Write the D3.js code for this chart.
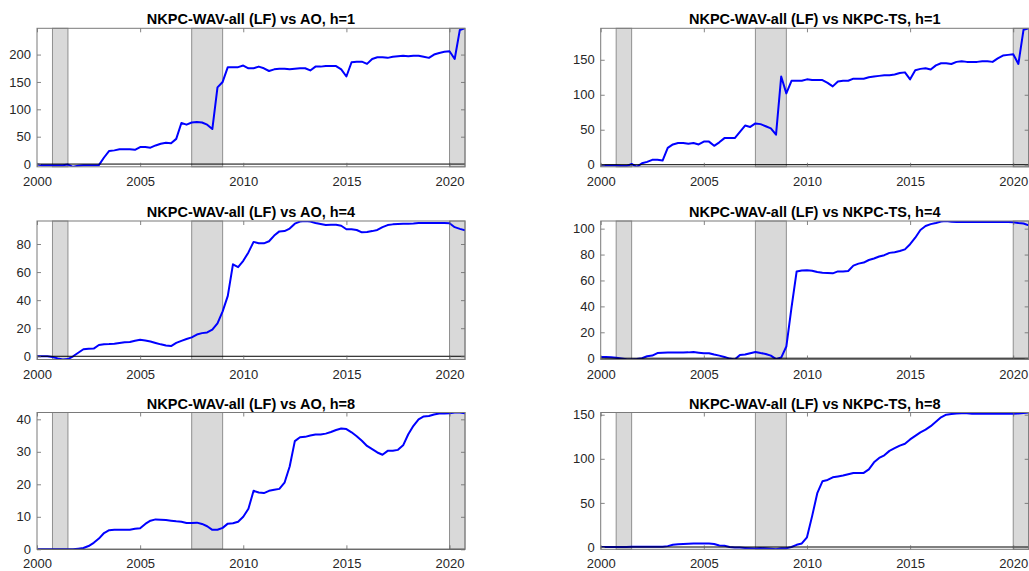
<!DOCTYPE html>
<html>
<head>
<meta charset="utf-8">
<script src="https://cdn.jsdelivr.net/npm/d3@7"></script>
<style>
  html, body { margin: 0; padding: 0; background: #fff; overflow: hidden; }
  svg { display: block; font-family: "Liberation Sans", Arial, Helvetica, sans-serif; }
</style>
</head>
<body>
<svg id="chart" width="1029" height="571"></svg>
<script>
// ---- Data (quarterly, 2000Q1 .. 2020Q4) ----
const startYear = 2000;
const nQuarters = 84;
const dates = d3.range(nQuarters).map(i => startYear + i / 4);

const xTicks = [2000, 2005, 2010, 2015, 2020];
const recessions = [[2000.75, 2001.5], [2007.5, 2009.0], [2020.0, 2020.75]];

const titles = [
  "NKPC-WAV-all (LF) vs AO, h=1",
  "NKPC-WAV-all (LF) vs NKPC-TS, h=1",
  "NKPC-WAV-all (LF) vs AO, h=4",
  "NKPC-WAV-all (LF) vs NKPC-TS, h=4",
  "NKPC-WAV-all (LF) vs AO, h=8",
  "NKPC-WAV-all (LF) vs NKPC-TS, h=8"
];

const aoH1 = [
  -1, -2, -2, -2,   -2, -2, -1, -5,   -3, -2, -2, -2,   -2, 12, 24, 25,
  27, 27, 27, 26,   31, 31, 30, 34,   37, 39, 38, 46,   75, 72, 76, 77,
  76, 72, 64, 140,  150, 177, 177, 177, 180, 175, 175, 178, 175, 170, 173, 174,
  174, 173, 174, 175, 175, 171, 178, 178, 179, 179, 179, 173, 160, 186, 187, 187,
  183, 192, 195, 195, 194, 196, 197, 198, 197, 198, 198, 196, 194, 200, 203, 205,
  206, 192, 245, 248
];
const tsH1 = [
  -1, -1, -1, -1,   -2, -2, 1, -3,    2, 4, 7, 7,       6, 24, 29, 31,
  31, 30, 31, 29,   33, 33, 27, 32,   38, 38, 38, 47,   56, 54, 59, 58,
  55, 52, 43, 126,  102, 120, 120, 120, 122, 121, 121, 121, 117, 112, 119, 120,
  120, 123, 123, 123, 125, 126, 127, 128, 128, 129, 131, 132, 122, 135, 137, 138,
  136, 142, 145, 145, 144, 147, 148, 147, 147, 147, 148, 148, 147, 152, 156, 157,
  158, 144, 193, 195
];
const aoH4 = [
  0, 0, 0, -0.5,    -1.5, -2.3, -2, 0,   2.5, 5, 5.3, 5.5,   8, 8.5, 8.7, 9,
  9.5, 10, 10.2, 11, 11.7, 11.3, 10.5, 9.5, 8.5, 7.7, 7.3, 9.5, 11, 12.3, 13.5, 15.5,
  16.5, 17, 19, 23.5, 32, 43, 65.5, 63.5, 68, 74, 81.5, 80.5, 80.5, 82, 86, 89,
  89.2, 91, 94.5, 96, 96.4, 96, 95, 94.3, 93.5, 93.8, 93.7, 93, 90.5, 90.5, 90, 88.3,
  88.5, 89.2, 90, 92, 93.5, 94, 94.3, 94.5, 94.5, 94.7, 95, 95, 95, 95, 95, 95,
  94.8, 92, 90.8, 89.8
];
const tsH4 = [
  1, 1, 0.8, 0.3,   -0.2, -0.8, -1, -0.6,  0, 1.5, 2, 4,   4.3, 4.4, 4.4, 4.4,
  4.4, 4.5, 4.7, 4.3, 3.8, 3.8, 2.8, 2,   1, -0.3, -1, 2.5,  2.8, 3.8, 4.8, 4,
  3.3, 2, -0.7, 0.5, 9, 39, 67, 67.7,   67.8, 67.5, 66.5, 66, 65.8, 65.5, 67, 67,
  67.3, 71.5, 73, 73.8, 75.8, 77, 78.5, 79.5, 81.3, 81.8, 82.7, 84, 88, 93, 99, 102,
  103.5, 104.3, 105.5, 105.9, 105.3, 105.2, 105.2, 105.2, 105.2, 105.2, 105.2, 105.2,
  105.2, 105.2, 105.2, 105.2, 105, 104.3, 104, 102.5
];
const aoH8 = [
  0, 0, 0, 0,       0, 0, 0, 0,       0.2, 0.4, 1, 2,    3.3, 5, 5.9, 6,
  6, 6, 6, 6.3,     6.5, 7.8, 8.8, 9.2, 9.1, 9, 8.8, 8.6, 8.5, 8.1, 8.1, 8.2,
  7.8, 7.1, 6, 6,   6.6, 7.9, 8, 8.5, 10, 12.5, 18, 17.5, 17.3, 18, 18.3, 18.6,
  20.5, 25.5, 33.3, 34.5, 34.6, 35, 35.3, 35.3, 35.6, 36.1, 36.7, 37.2, 37, 36, 34.8, 33.4,
  31.8, 30.8, 29.8, 29.1, 30.3, 30.3, 30.6, 32, 35.4, 38, 40, 40.9, 41, 41.5, 41.8, 41.8,
  41.9, 42.1, 42.1, 41.9
];
const tsH8 = [
  0, 0, 0, 0,       0, 0, 0.2, 0.3,   0.3, 0.3, 0.2, 0.2, 0.3, 1, 2.5, 3,
  3.5, 3.8, 4, 4,   4, 4, 3.5, 1.8,   1.5, 0, -0.5, -0.7, -1, -1.3, -1.7, -1,
  -1.5, -2, -2.6, -1.5, -1.3, 0, 2.5, 4, 11, 35, 61, 74.5, 76, 79, 80, 81,
  82.5, 84, 84, 84, 88, 96, 101, 104, 109, 112, 115, 117, 122, 126, 130, 133,
  137, 142, 147, 150, 150.7, 151.3, 151.7, 151.7, 151, 151, 151, 151, 151, 151, 151, 151,
  151, 151.5, 152, 152.5
];

const seriesList = [aoH1, tsH1, aoH4, tsH4, aoH8, tsH8];
const yTickSteps = [50, 50, 20, 20, 10, 50];

// ---- Layout ----
const colX = [37, 600.7];
const rowY = [28.3, 221, 412.5];
const rowH = [138.5, 138.5, 136.8];
const xLabelPad = [10, 10, 9.7];
const panelW = 428;

const svg = d3.select("#chart");
const defs = svg.append("defs");

seriesList.forEach((vals, i) => {
  const col = i % 2, row = Math.floor(i / 2);
  const x0 = colX[col], y0 = rowY[row];
  const panelH = rowH[row];
  const data = dates.map((d, k) => ({ t: d, v: vals[k] }));

  const x = d3.scaleLinear().domain([dates[0], dates[dates.length - 1]]).range([0, panelW]);
  const ext = d3.extent(vals);
  const y = d3.scaleLinear().domain(ext).range([panelH, 0]);

  const g = svg.append("g").attr("transform", `translate(${x0},${y0})`);
  const clipId = "clip" + i;
  defs.append("clipPath").attr("id", clipId)
    .append("rect").attr("x", 0).attr("y", 0).attr("width", panelW).attr("height", panelH);

  // recession shading
  g.append("g").selectAll("rect").data(recessions).join("rect")
    .attr("x", d => x(d[0]))
    .attr("y", 0)
    .attr("width", d => x(Math.min(d[1], x.domain()[1])) - x(d[0]))
    .attr("height", panelH)
    .attr("fill", "#d9d9d9")
    .attr("stroke", "#8f8f8f")
    .attr("stroke-width", 1);

  // line
  g.append("path").datum(data)
    .attr("clip-path", `url(#${clipId})`)
    .attr("fill", "none")
    .attr("stroke", "#0000ff")
    .attr("stroke-width", 2)
    .attr("stroke-linejoin", "round")
    .attr("d", d3.line().x(d => x(d.t)).y(d => y(d.v)));

  // zero line
  g.append("line")
    .attr("x1", 0).attr("x2", panelW)
    .attr("y1", y(0)).attr("y2", y(0))
    .attr("stroke", "#000").attr("stroke-width", 1);

  // axes
  const yTicks = d3.range(0, ext[1] + 1e-9, yTickSteps[i]);
  const xAxis = d3.axisBottom(x).tickValues(xTicks).tickFormat(d3.format("d"))
    .tickSizeInner(-4).tickSizeOuter(0).tickPadding(xLabelPad[row]);
  const xAxisTop = d3.axisTop(x).tickValues(xTicks).tickFormat("")
    .tickSizeInner(-4).tickSizeOuter(0);
  const yAxis = d3.axisLeft(y).tickValues(yTicks).tickFormat(d3.format("d"))
    .tickSizeInner(-4).tickSizeOuter(0).tickPadding(6);
  const yAxisRight = d3.axisRight(y).tickValues(yTicks).tickFormat("")
    .tickSizeInner(-4).tickSizeOuter(0);

  const styleAxis = sel => {
    sel.selectAll("path").remove();
    sel.selectAll("line").attr("stroke", "#666").attr("stroke-width", 0.8);
    sel.selectAll("text").attr("fill", "#262626").style("font-size", "13px")
      .style("font-family", '"Liberation Sans", Arial, Helvetica, sans-serif');
  };
  g.append("g").attr("transform", `translate(0,${panelH})`).call(xAxis).call(styleAxis);
  g.append("g").call(xAxisTop).call(styleAxis);
  g.append("g").call(yAxis).call(styleAxis);
  g.append("g").attr("transform", `translate(${panelW},0)`).call(yAxisRight).call(styleAxis);

  // box
  g.append("rect").attr("x", 0).attr("y", 0).attr("width", panelW).attr("height", panelH)
    .attr("fill", "none").attr("stroke", "#7a7a7a").attr("stroke-width", 1);

  // title
  g.append("text")
    .attr("x", panelW / 2).attr("y", -4)
    .attr("text-anchor", "middle")
    .attr("fill", "#000")
    .style("font-size", "14.5px").style("font-weight", "bold")
    .text(titles[i]);
});
</script>
</body>
</html>
